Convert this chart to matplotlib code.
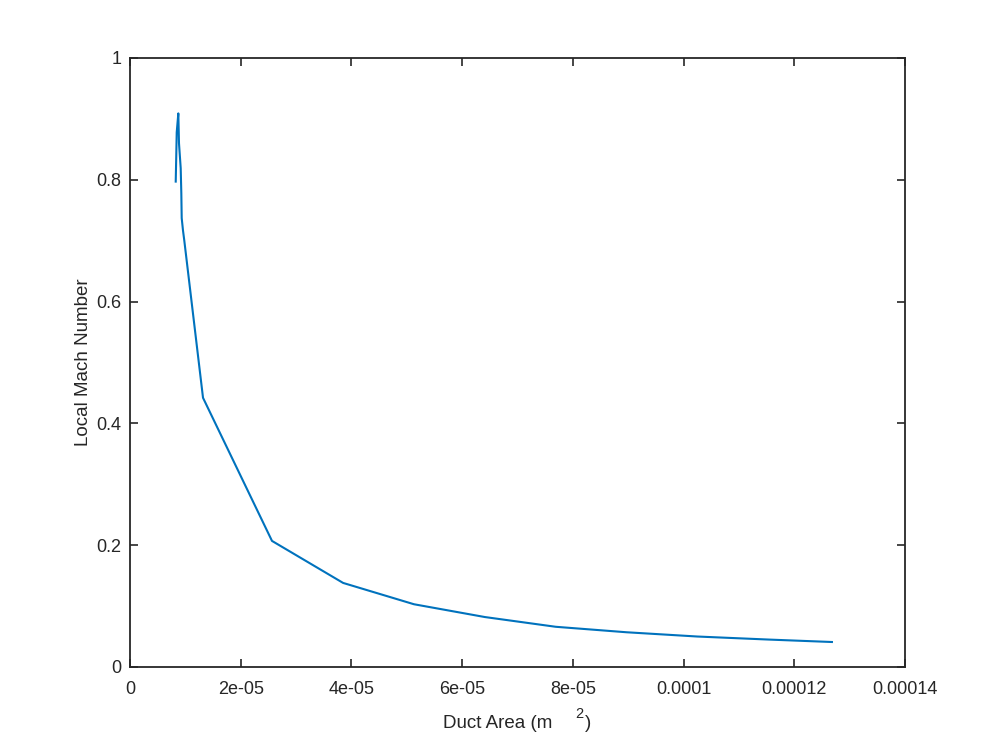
import matplotlib
matplotlib.use("Agg")
import matplotlib.pyplot as plt

area = [8.26e-6, 8.36e-6, 8.44e-6, 8.73e-6, 8.85e-6, 9.16e-6, 9.27e-6, 9.34e-6,
        9.57e-6, 9.81e-6, 1.319e-5, 2.565e-5, 3.85e-5, 5.13e-5, 6.41e-5,
        7.69e-5, 8.97e-5, 1.025e-4, 1.154e-4, 1.268e-4]
mach = [0.797, 0.841, 0.878, 0.909, 0.860, 0.819, 0.778, 0.737,
        0.717, 0.700, 0.442, 0.207, 0.138, 0.103, 0.082,
        0.066, 0.057, 0.050, 0.045, 0.041]

xticks = [0, 2e-5, 4e-5, 6e-5, 8e-5, 1e-4, 1.2e-4, 1.4e-4]
xticklabels = ["0", "2e-05", "4e-05", "6e-05", "8e-05", "0.0001", "0.00012", "0.00014"]
yticks = [0, 0.2, 0.4, 0.6, 0.8, 1.0]
yticklabels = ["0", "0.2", "0.4", "0.6", "0.8", "1"]

plt.rcParams['font.family'] = ['Liberation Sans', 'DejaVu Sans']
TXT = '#262626'

fig = plt.figure(figsize=(10, 7.5), dpi=100)
ax = fig.add_axes([0.13, 0.1107, 0.775, 0.812])
ax.plot(area, mach, color='#0072BD', lw=1.5)
ax.set_xlim(0, 1.4e-4)
ax.set_ylim(0, 1)
ax.set_xticks(xticks)
ax.set_xticklabels(xticklabels)
ax.set_yticks(yticks)
ax.set_yticklabels(yticklabels)
ax.tick_params(direction='in', top=True, right=True, length=6, width=1.2,
               labelsize=13, colors=TXT)
ax.tick_params(axis='x', pad=10)
ax.tick_params(axis='y', pad=6)
for s in ax.spines.values():
    s.set_color(TXT)
    s.set_linewidth(1.3)

# axis labels
fig.text(83 / 1000, 1 - 362.5 / 750, "Local Mach Number", rotation=90,
         ha='center', va='center', fontsize=13.5, color=TXT)
fig.text(443 / 1000, 1 - 728 / 750, "Duct Area (m", ha='left', va='baseline',
         fontsize=13.5, color=TXT)
fig.text(575 / 1000, 1 - 718 / 750, "2", ha='left', va='baseline',
         fontsize=10.5, color=TXT)
fig.text(585 / 1000, 1 - 728 / 750, ")", ha='left', va='baseline',
         fontsize=13.5, color=TXT)
fig.savefig("out.png", dpi=100)
